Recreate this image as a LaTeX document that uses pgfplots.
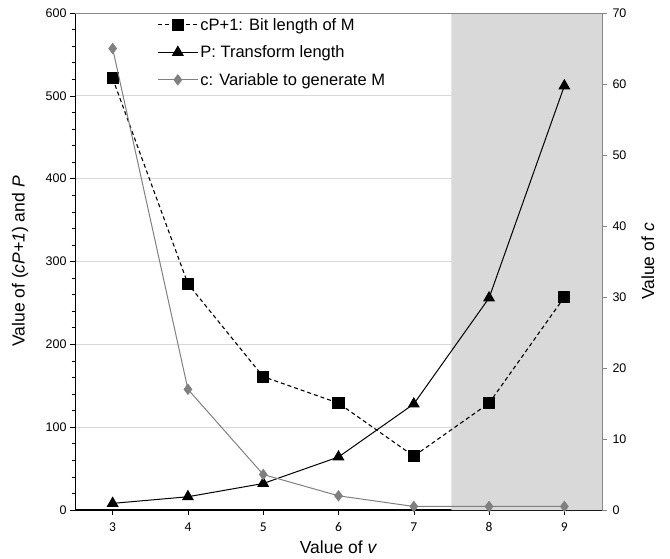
\documentclass[border=0pt]{standalone}
\usepackage{fontspec}
\setmainfont{Liberation Sans}
\newfontfamily\calib{Carlito}
\usepackage{pgfplots}
\pgfplotsset{compat=1.18}
\definecolor{shade}{HTML}{D9D9D9}
\definecolor{gridc}{HTML}{D9D9D9}
\definecolor{cgray}{HTML}{808080}
\definecolor{axgray}{HTML}{868686}
\begin{document}
\begin{tikzpicture}
\pgfplotsset{
  every axis/.append style={
    scale only axis,
    width=527pt, height=497pt,
    xmin=2.5, xmax=9.5,
    /pgf/number format/assume math mode=true,
    tick align=outside,
    major tick length=5pt,
    minor tick length=3pt,
  },
}
\begin{axis}[
  name=ax,
  ymin=0, ymax=600,
  ytick={0,100,...,600},
  minor y tick num=4,
  xtick={3,4,5,6,7,8,9},
  xtick pos=bottom, ytick pos=left,
  axis x line*=bottom, axis y line*=left,
  x axis line style={black, line width=1.5pt},
  y axis line style={black, line width=0.8pt},
  xtick style={black, line width=0.5pt},
  ytick style={black, line width=0.6pt},
  ymajorgrids,
  grid style={gridc, line width=0.8pt},
  x tick label style={font=\calib\fontsize{13.5}{15}\selectfont, yshift=-4pt},
  y tick label style={font=\fontsize{12.5}{14}\selectfont},
  xlabel={Value of \textit{v}},
  ylabel={Value of (\textit{cP+1}) and \textit{P}},
  xlabel style={font=\fontsize{17.5}{19}\selectfont, at={(axis description cs:0.5,-0.0745)}, anchor=center},
  ylabel style={font=\fontsize{17.5}{19}\selectfont, at={(axis description cs:-0.104,0.5)}, anchor=center},
  legend style={at={(axis description cs:0.152,0.998)}, anchor=north west, draw=none, fill=none,
    font=\fontsize{16.5}{18}\selectfont, row sep=10pt, inner sep=2pt},
  legend cell align=left,
  legend image code/.code={\draw[mark repeat=2,mark phase=2,#1] plot coordinates {(0pt,0pt) (20pt,0pt) (40pt,0pt)};},
]
\addplot[draw=none, fill=shade, forget plot] coordinates {(7.5,0) (9.5,0) (9.5,600) (7.5,600)} \closedcycle;
\addplot[black, line width=1.1pt, dash pattern=on 4pt off 3pt, mark=square*, mark size=5.5pt, mark options={solid, fill=black}]
  coordinates {(3,521) (4,273) (5,161) (6,129) (7,65) (8,129) (9,257)};
\addlegendentry{cP+1: Bit length of M}
\addplot[black, line width=1pt, mark=triangle*, mark size=6pt, mark options={solid, fill=black}]
  coordinates {(3,8) (4,16) (5,32) (6,64) (7,128) (8,256) (9,512)};
\addlegendentry{P: Transform length}
\addlegendimage{cgray, line width=1pt, mark=diamond*, mark size=5pt, mark options={fill=cgray}}
\addlegendentry{c: Variable to generate M}
\end{axis}
\begin{axis}[
  ymin=0, ymax=70,
  ytick={0,10,...,70},
  axis y line*=right, axis x line*=top,
  xtick=\empty,
  x axis line style={axgray, line width=0.8pt},
  y axis line style={axgray, line width=0.8pt},
  ytick style={axgray, line width=0.6pt},
  y tick label style={font=\fontsize{12.5}{14}\selectfont, xshift=2pt},
  ylabel={Value of \textit{c}},
  ylabel style={font=\fontsize{17.5}{19}\selectfont, at={(axis description cs:1.087,0.5)}, anchor=center},
]
\addplot[cgray, line width=1pt, mark=diamond*, mark size=5pt, mark options={fill=cgray}]
  coordinates {(3,65) (4,17) (5,5) (6,2) (7,0.5) (8,0.5) (9,0.5)};
\end{axis}
\pgfresetboundingbox
\path[use as bounding box] (ax.south west) ++(-75pt,-48pt) rectangle ++(670pt,558pt);
\end{tikzpicture}
\end{document}
